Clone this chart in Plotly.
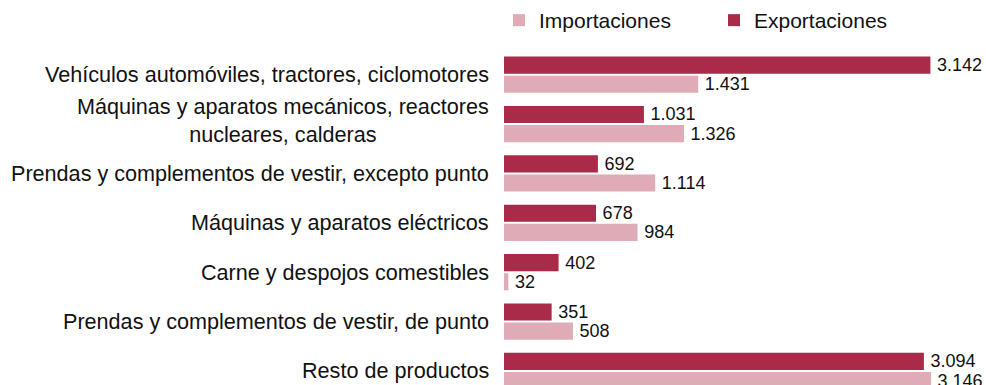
import plotly.graph_objects as go

# Categories listed top to bottom as they appear in the chart
categories = [
    "Vehículos automóviles, tractores, ciclomotores",
    "Máquinas y aparatos mecánicos, reactores<br>nucleares, calderas",
    "Prendas y complementos de vestir, excepto punto",
    "Máquinas y aparatos eléctricos",
    "Carne y despojos comestibles",
    "Prendas y complementos de vestir, de punto",
    "Resto de productos",
]
exportaciones = [3142, 1031, 692, 678, 402, 351, 3094]
importaciones = [1431, 1326, 1114, 984, 32, 508, 3146]

FONT = "Liberation Sans, Arial, sans-serif"
FS = 21.6
VALUE_FS = 18
DARK = "rgb(169,43,73)"
LIGHT = "rgb(223,171,183)"

# y axis runs bottom-up, so feed categories reversed (top item gets highest index)
cats_rev = categories[::-1]
imp_rev = importaciones[::-1]
exp_rev = exportaciones[::-1]

# thin space keeps a little air between bar end and its value
VALUE_FMT = "\u2009%{x:,}"

fig = go.Figure()
fig.add_trace(go.Bar(
    name="Importaciones", y=cats_rev, x=imp_rev, orientation="h",
    marker=dict(color=LIGHT, line=dict(width=0)),
    texttemplate=VALUE_FMT, textposition="outside", cliponaxis=False,
    constraintext="none", textfont=dict(family=FONT, size=VALUE_FS, color="#111"),
))
fig.add_trace(go.Bar(
    name="Exportaciones", y=cats_rev, x=exp_rev, orientation="h",
    marker=dict(color=DARK, line=dict(width=0)),
    texttemplate=VALUE_FMT, textposition="outside", cliponaxis=False,
    constraintext="none", textfont=dict(family=FONT, size=VALUE_FS, color="#111"),
))

# Category labels as centred annotations (multi-line label is centre-aligned)
annotations = []
for c in categories:
    annotations.append(dict(
        text=c, xref="paper", yref="y", x=-13 / 475, y=c,
        xanchor="right", yanchor="middle", align="center", showarrow=False,
        yshift=4 if "<br>" in c else 0,
        font=dict(family=FONT, size=FS, color="#111"),
    ))
annotations.append(dict(
    text="Unidad: millones de euros.", xref="paper", yref="paper",
    x=-504 / 475, y=1 + 57 / 335, xanchor="left", yanchor="middle",
    showarrow=False, font=dict(family=FONT, size=FS, color="#111"),
))

fig.update_layout(
    width=986, height=385,
    margin=dict(l=504, r=7, t=50, b=0, pad=0),
    paper_bgcolor="white", plot_bgcolor="white",
    barmode="group", bargap=0.224, bargroupgap=0.105,
    separators=",.",
    font=dict(family=FONT, size=FS, color="#111"),
    xaxis=dict(range=[0, 3500], visible=False, fixedrange=True),
    yaxis=dict(categoryorder="array", categoryarray=cats_rev,
               range=[-0.285, 6.5], showticklabels=False, showgrid=False,
               zeroline=False, showline=False, ticks=""),
    showlegend=True,
    legend=dict(orientation="h", x=-5 / 475, xanchor="left", y=1 + 30 / 335,
                yanchor="middle", font=dict(family=FONT, size=21, color="#111"),
                itemsizing="constant", entrywidth=170, bgcolor="rgba(0,0,0,0)"),
    annotations=annotations,
)

fig.write_html("out.html")
